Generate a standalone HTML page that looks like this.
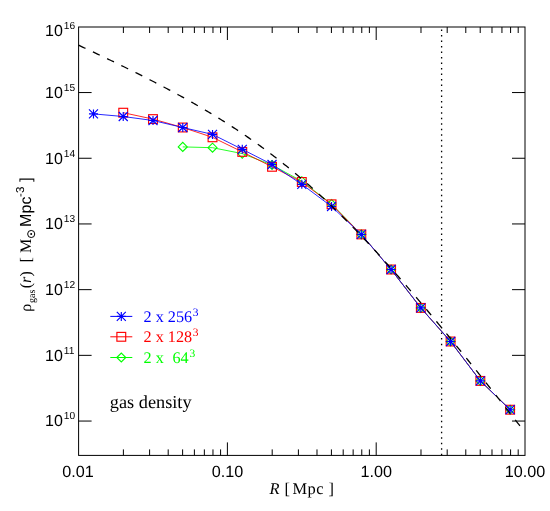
<!DOCTYPE html>
<html><head><meta charset="utf-8"><title>gas density</title>
<style>html,body{margin:0;padding:0;background:#fff;}svg{display:block;}text{font-family:"Liberation Sans",sans-serif;fill:#000;text-rendering:geometricPrecision;}.s{font-family:"Liberation Serif",serif;}</style></head><body>
<svg width="550" height="511" viewBox="0 0 550 511" style="will-change:transform">
<polyline points="182.76,146.90 212.52,147.70 242.28,153.60 272.04,165.00 301.80,181.20 331.56,204.00 361.32,234.40 391.08,269.50 420.84,307.90 450.60,341.50 480.36,380.90 510.12,409.70" fill="none" stroke="#00ff00" stroke-width="0.85"/>
<path d="M178.26,146.90L182.76,142.40L187.26,146.90L182.76,151.40Z" stroke="#00ff00" stroke-width="1.1" fill="none"/>
<path d="M208.02,147.70L212.52,143.20L217.02,147.70L212.52,152.20Z" stroke="#00ff00" stroke-width="1.1" fill="none"/>
<path d="M237.78,153.60L242.28,149.10L246.78,153.60L242.28,158.10Z" stroke="#00ff00" stroke-width="1.1" fill="none"/>
<path d="M267.54,165.00L272.04,160.50L276.54,165.00L272.04,169.50Z" stroke="#00ff00" stroke-width="1.1" fill="none"/>
<path d="M297.30,181.20L301.80,176.70L306.30,181.20L301.80,185.70Z" stroke="#00ff00" stroke-width="1.1" fill="none"/>
<path d="M327.06,204.00L331.56,199.50L336.06,204.00L331.56,208.50Z" stroke="#00ff00" stroke-width="1.1" fill="none"/>
<path d="M356.82,234.40L361.32,229.90L365.82,234.40L361.32,238.90Z" stroke="#00ff00" stroke-width="1.1" fill="none"/>
<path d="M386.58,269.50L391.08,265.00L395.58,269.50L391.08,274.00Z" stroke="#00ff00" stroke-width="1.1" fill="none"/>
<path d="M416.34,307.90L420.84,303.40L425.34,307.90L420.84,312.40Z" stroke="#00ff00" stroke-width="1.1" fill="none"/>
<path d="M446.10,341.50L450.60,337.00L455.10,341.50L450.60,346.00Z" stroke="#00ff00" stroke-width="1.1" fill="none"/>
<path d="M475.86,380.90L480.36,376.40L484.86,380.90L480.36,385.40Z" stroke="#00ff00" stroke-width="1.1" fill="none"/>
<path d="M505.62,409.70L510.12,405.20L514.62,409.70L510.12,414.20Z" stroke="#00ff00" stroke-width="1.1" fill="none"/>
<polyline points="123.24,112.70 153.00,119.10 182.76,127.50 212.52,137.30 242.28,151.90 272.04,166.80 301.80,182.00 331.56,204.30 361.32,234.40 391.08,269.50 420.84,307.90 450.60,341.50 480.36,380.90 510.12,409.70" fill="none" stroke="#ff0000" stroke-width="0.85"/>
<rect x="118.84" y="108.30" width="8.80" height="8.80" stroke="#ff0000" stroke-width="1.15" fill="none"/>
<rect x="148.60" y="114.70" width="8.80" height="8.80" stroke="#ff0000" stroke-width="1.15" fill="none"/>
<rect x="178.36" y="123.10" width="8.80" height="8.80" stroke="#ff0000" stroke-width="1.15" fill="none"/>
<rect x="208.12" y="132.90" width="8.80" height="8.80" stroke="#ff0000" stroke-width="1.15" fill="none"/>
<rect x="237.88" y="147.50" width="8.80" height="8.80" stroke="#ff0000" stroke-width="1.15" fill="none"/>
<rect x="267.64" y="162.40" width="8.80" height="8.80" stroke="#ff0000" stroke-width="1.15" fill="none"/>
<rect x="297.40" y="177.60" width="8.80" height="8.80" stroke="#ff0000" stroke-width="1.15" fill="none"/>
<rect x="327.16" y="199.90" width="8.80" height="8.80" stroke="#ff0000" stroke-width="1.15" fill="none"/>
<rect x="356.92" y="230.00" width="8.80" height="8.80" stroke="#ff0000" stroke-width="1.15" fill="none"/>
<rect x="386.68" y="265.10" width="8.80" height="8.80" stroke="#ff0000" stroke-width="1.15" fill="none"/>
<rect x="416.44" y="303.50" width="8.80" height="8.80" stroke="#ff0000" stroke-width="1.15" fill="none"/>
<rect x="446.20" y="337.10" width="8.80" height="8.80" stroke="#ff0000" stroke-width="1.15" fill="none"/>
<rect x="475.96" y="376.50" width="8.80" height="8.80" stroke="#ff0000" stroke-width="1.15" fill="none"/>
<rect x="505.72" y="405.30" width="8.80" height="8.80" stroke="#ff0000" stroke-width="1.15" fill="none"/>
<polyline points="93.48,113.90 123.24,116.50 153.00,120.50 182.76,127.50 212.52,134.40 242.28,149.30 272.04,164.50 301.80,184.30 331.56,206.50 361.32,234.40 391.08,269.50 420.84,307.90 450.60,341.50 480.36,380.90 510.12,409.70" fill="none" stroke="#0000ff" stroke-width="0.85"/>
<path d="M88.98,113.90H97.98M93.48,109.40V118.40M88.98,109.40L97.98,118.40M88.98,118.40L97.98,109.40" stroke="#0000ff" stroke-width="1.15" fill="none"/>
<path d="M118.74,116.50H127.74M123.24,112.00V121.00M118.74,112.00L127.74,121.00M118.74,121.00L127.74,112.00" stroke="#0000ff" stroke-width="1.15" fill="none"/>
<path d="M148.50,120.50H157.50M153.00,116.00V125.00M148.50,116.00L157.50,125.00M148.50,125.00L157.50,116.00" stroke="#0000ff" stroke-width="1.15" fill="none"/>
<path d="M178.26,127.50H187.26M182.76,123.00V132.00M178.26,123.00L187.26,132.00M178.26,132.00L187.26,123.00" stroke="#0000ff" stroke-width="1.15" fill="none"/>
<path d="M208.02,134.40H217.02M212.52,129.90V138.90M208.02,129.90L217.02,138.90M208.02,138.90L217.02,129.90" stroke="#0000ff" stroke-width="1.15" fill="none"/>
<path d="M237.78,149.30H246.78M242.28,144.80V153.80M237.78,144.80L246.78,153.80M237.78,153.80L246.78,144.80" stroke="#0000ff" stroke-width="1.15" fill="none"/>
<path d="M267.54,164.50H276.54M272.04,160.00V169.00M267.54,160.00L276.54,169.00M267.54,169.00L276.54,160.00" stroke="#0000ff" stroke-width="1.15" fill="none"/>
<path d="M297.30,184.30H306.30M301.80,179.80V188.80M297.30,179.80L306.30,188.80M297.30,188.80L306.30,179.80" stroke="#0000ff" stroke-width="1.15" fill="none"/>
<path d="M327.06,206.50H336.06M331.56,202.00V211.00M327.06,202.00L336.06,211.00M327.06,211.00L336.06,202.00" stroke="#0000ff" stroke-width="1.15" fill="none"/>
<path d="M356.82,234.40H365.82M361.32,229.90V238.90M356.82,229.90L365.82,238.90M356.82,238.90L365.82,229.90" stroke="#0000ff" stroke-width="1.15" fill="none"/>
<path d="M386.58,269.50H395.58M391.08,265.00V274.00M386.58,265.00L395.58,274.00M386.58,274.00L395.58,265.00" stroke="#0000ff" stroke-width="1.15" fill="none"/>
<path d="M416.34,307.90H425.34M420.84,303.40V312.40M416.34,303.40L425.34,312.40M416.34,312.40L425.34,303.40" stroke="#0000ff" stroke-width="1.15" fill="none"/>
<path d="M446.10,341.50H455.10M450.60,337.00V346.00M446.10,337.00L455.10,346.00M446.10,346.00L455.10,337.00" stroke="#0000ff" stroke-width="1.15" fill="none"/>
<path d="M475.86,380.90H484.86M480.36,376.40V385.40M475.86,376.40L484.86,385.40M475.86,385.40L484.86,376.40" stroke="#0000ff" stroke-width="1.15" fill="none"/>
<path d="M505.62,409.70H514.62M510.12,405.20V414.20M505.62,405.20L514.62,414.20M505.62,414.20L514.62,405.20" stroke="#0000ff" stroke-width="1.15" fill="none"/>
<path d="M78.60,45.21 L80.09,45.90 L81.59,46.60 L83.08,47.30 L84.57,47.99 L86.06,48.69 L87.56,49.39 L89.05,50.09 L90.54,50.80 L92.04,51.50 L93.53,52.20 L95.02,52.91 L96.52,53.62 L98.01,54.32 L99.50,55.03 L100.99,55.74 L102.49,56.45 L103.98,57.16 L105.47,57.88 L106.97,58.59 L108.46,59.31 L109.95,60.02 L111.45,60.74 L112.94,61.46 L114.43,62.18 L115.92,62.90 L117.42,63.63 L118.91,64.35 L120.40,65.08 L121.90,65.81 L123.39,66.54 L124.88,67.27 L126.38,68.00 L127.87,68.73 L129.36,69.47 L130.85,70.21 L132.35,70.95 L133.84,71.69 L135.33,72.43 L136.83,73.18 L138.32,73.92 L139.81,74.67 L141.31,75.42 L142.80,76.17 L144.29,76.93 L145.78,77.69 L147.28,78.44 L148.77,79.21 L150.26,79.97 L151.76,80.73 L153.25,81.50 L154.74,82.27 L156.23,83.05 L157.73,83.82 L159.22,84.60 L160.71,85.38 L162.21,86.16 L163.70,86.95 L165.19,87.73 L166.69,88.52 L168.18,89.32 L169.67,90.11 L171.16,90.91 L172.66,91.71 L174.15,92.52 L175.64,93.33 L177.14,94.14 L178.63,94.95 L180.12,95.77 L181.62,96.59 L183.11,97.41 L184.60,98.24 L186.09,99.07 L187.59,99.91 L189.08,100.74 L190.57,101.59 L192.07,102.43 L193.56,103.28 L195.05,104.13 L196.55,104.99 L198.04,105.85 L199.53,106.71 L201.02,107.58 L202.52,108.45 L204.01,109.33 L205.50,110.21 L207.00,111.10 L208.49,111.99 L209.98,112.88 L211.47,113.78 L212.97,114.68 L214.46,115.59 L215.95,116.50 L217.45,117.42 L218.94,118.34 L220.43,119.27 L221.93,120.20 L223.42,121.14 L224.91,122.08 L226.40,123.02 L227.90,123.98 L229.39,124.93 L230.88,125.90 L232.38,126.86 L233.87,127.84 L235.36,128.82 L236.86,129.80 L238.35,130.79 L239.84,131.79 L241.33,132.79 L242.83,133.80 L244.32,134.81 L245.81,135.83 L247.31,136.86 L248.80,137.89 L250.29,138.93 L251.79,139.97 L253.28,141.02 L254.77,142.08 L256.26,143.15 L257.76,144.22 L259.25,145.29 L260.74,146.38 L262.24,147.47 L263.73,148.56 L265.22,149.66 L266.72,150.77 L268.21,151.89 L269.70,153.02 L271.19,154.15 L272.69,155.28 L274.18,156.43 L275.67,157.58 L277.17,158.74 L278.66,159.90 L280.15,161.08 L281.64,162.26 L283.14,163.45 L284.63,164.64 L286.12,165.84 L287.62,167.05 L289.11,168.27 L290.60,169.49 L292.10,170.72 L293.59,171.96 L295.08,173.21 L296.57,174.46 L298.07,175.72 L299.56,176.99 L301.05,178.27 L302.55,179.55 L304.04,180.84 L305.53,182.14 L307.03,183.45 L308.52,184.76 L310.01,186.08 L311.50,187.41 L313.00,188.75 L314.49,190.09 L315.98,191.44 L317.48,192.80 L318.97,194.17 L320.46,195.54 L321.96,196.92 L323.45,198.31 L324.94,199.71 L326.43,201.11 L327.93,202.52 L329.42,203.94 L330.91,205.36 L332.41,206.79 L333.90,208.23 L335.39,209.68 L336.88,211.13 L338.38,212.60 L339.87,214.06 L341.36,215.54 L342.86,217.02 L344.35,218.51 L345.84,220.00 L347.34,221.51 L348.83,223.02 L350.32,224.53 L351.81,226.06 L353.31,227.59 L354.80,229.12 L356.29,230.67 L357.79,232.21 L359.28,233.77 L360.77,235.33 L362.27,236.90 L363.76,238.48 L365.25,240.06 L366.74,241.64 L368.24,243.24 L369.73,244.84 L371.22,246.44 L372.72,248.05 L374.21,249.67 L375.70,251.29 L377.20,252.92 L378.69,254.55 L380.18,256.19 L381.67,257.84 L383.17,259.49 L384.66,261.15 L386.15,262.81 L387.65,264.47 L389.14,266.15 L390.63,267.82 L392.13,269.50 L393.62,271.19 L395.11,272.88 L396.60,274.58 L398.10,276.28 L399.59,277.99 L401.08,279.70 L402.58,281.41 L404.07,283.13 L405.56,284.86 L407.05,286.59 L408.55,288.32 L410.04,290.06 L411.53,291.80 L413.03,293.55 L414.52,295.30 L416.01,297.05 L417.51,298.81 L419.00,300.57 L420.49,302.34 L421.98,304.10 L423.48,305.88 L424.97,307.65 L426.46,309.43 L427.96,311.22 L429.45,313.01 L430.94,314.80 L432.44,316.59 L433.93,318.39 L435.42,320.19 L436.91,321.99 L438.41,323.80 L439.90,325.61 L441.39,327.42 L442.89,329.24 L444.38,331.05 L445.87,332.88 L447.37,334.70 L448.86,336.53 L450.35,338.36 L451.84,340.19 L453.34,342.02 L454.83,343.86 L456.32,345.70 L457.82,347.54 L459.31,349.39 L460.80,351.24 L462.29,353.09 L463.79,354.94 L465.28,356.79 L466.77,358.65 L468.27,360.51 L469.76,362.37 L471.25,364.23 L472.75,366.09 L474.24,367.96 L475.73,369.83 L477.22,371.70 L478.72,373.57 L480.21,375.45 L481.70,377.32 L483.20,379.20 L484.69,381.08 L486.18,382.96 L487.68,384.84 L489.17,386.73 L490.66,388.61 L492.15,390.50 L493.65,392.39 L495.14,394.28 L496.63,396.17 L498.13,398.07 L499.62,399.96 L501.11,401.86 L502.61,403.75 L504.10,405.65 L505.59,407.55 L507.08,409.45 L508.58,411.36 L510.07,413.26 L511.56,415.17 L513.06,417.07 L514.55,418.98 L516.04,420.89 L517.54,422.80 L519.03,424.71 L520.52,426.62 L522.01,428.53 L523.51,430.45 L525.00,432.36" fill="none" stroke="#000" stroke-width="1.3" stroke-dasharray="7.6 8.17"/>
<line x1="441.6" y1="29.45" x2="441.6" y2="455.4" stroke="#000" stroke-width="1.3" stroke-dasharray="1.5 4.012"/>
<rect x="78.6" y="27.0" width="446.4" height="428.4" fill="none" stroke="#000" stroke-width="1.0"/>
<path d="M123.39,455.4v-6.0M123.39,27.0v6.0M149.60,455.4v-6.0M149.60,27.0v6.0M168.19,455.4v-6.0M168.19,27.0v6.0M182.61,455.4v-6.0M182.61,27.0v6.0M194.39,455.4v-6.0M194.39,27.0v6.0M204.35,455.4v-6.0M204.35,27.0v6.0M212.98,455.4v-6.0M212.98,27.0v6.0M220.59,455.4v-6.0M220.59,27.0v6.0M227.40,455.4v-13.0M227.40,27.0v13.0M272.19,455.4v-6.0M272.19,27.0v6.0M298.40,455.4v-6.0M298.40,27.0v6.0M316.99,455.4v-6.0M316.99,27.0v6.0M331.41,455.4v-6.0M331.41,27.0v6.0M343.19,455.4v-6.0M343.19,27.0v6.0M353.15,455.4v-6.0M353.15,27.0v6.0M361.78,455.4v-6.0M361.78,27.0v6.0M369.39,455.4v-6.0M369.39,27.0v6.0M376.20,455.4v-13.0M376.20,27.0v13.0M420.99,455.4v-6.0M420.99,27.0v6.0M447.20,455.4v-6.0M447.20,27.0v6.0M465.79,455.4v-6.0M465.79,27.0v6.0M480.21,455.4v-6.0M480.21,27.0v6.0M491.99,455.4v-6.0M491.99,27.0v6.0M501.95,455.4v-6.0M501.95,27.0v6.0M510.58,455.4v-6.0M510.58,27.0v6.0M518.19,455.4v-6.0M518.19,27.0v6.0M78.6,421.05h13.0M525.0,421.05h-13.0M78.6,355.35h13.0M525.0,355.35h-13.0M78.6,289.65h13.0M525.0,289.65h-13.0M78.6,223.95h13.0M525.0,223.95h-13.0M78.6,158.25h13.0M525.0,158.25h-13.0M78.6,92.55h13.0M525.0,92.55h-13.0" stroke="#000" stroke-width="1.0" fill="none"/>
<text x="77.90" y="476.6" font-size="16.2" text-anchor="middle">0.01</text>
<text x="227.40" y="476.6" font-size="16.2" text-anchor="middle">0.10</text>
<text x="376.20" y="476.6" font-size="16.2" text-anchor="middle">1.00</text>
<text x="524.90" y="476.6" font-size="16.2" text-anchor="middle">10.00</text>
<text x="45.0" y="426.40" font-size="16">10<tspan x="63.8" font-size="10.2" dy="-7.1">10</tspan></text>
<text x="45.0" y="360.70" font-size="16">10<tspan x="63.8" font-size="10.2" dy="-7.1">11</tspan></text>
<text x="45.0" y="295.00" font-size="16">10<tspan x="63.8" font-size="10.2" dy="-7.1">12</tspan></text>
<text x="45.0" y="229.30" font-size="16">10<tspan x="63.8" font-size="10.2" dy="-7.1">13</tspan></text>
<text x="45.0" y="163.60" font-size="16">10<tspan x="63.8" font-size="10.2" dy="-7.1">14</tspan></text>
<text x="45.0" y="97.90" font-size="16">10<tspan x="63.8" font-size="10.2" dy="-7.1">15</tspan></text>
<text x="45.0" y="36.15" font-size="16">10<tspan x="63.8" font-size="10.2" dy="-7.1">16</tspan></text>
<text class="s" y="494.4" font-size="16.4"><tspan x="269.6" font-style="italic">R</tspan><tspan x="284.4">[</tspan><tspan x="292.5" letter-spacing="0.55">Mpc</tspan><tspan x="328.5">]</tspan></text>
<g transform="translate(31.0,311.3) rotate(-90)"><text class="s" font-size="16"><tspan x="-0.4" y="0">&#961;</tspan><tspan x="8.35" y="4.4" font-size="10">gas</tspan><tspan x="23.1" y="0">(</tspan><tspan x="28.24" y="0" font-style="italic">r</tspan><tspan x="34.73" y="0">)</tspan><tspan x="48.93" y="0">[</tspan><tspan x="58.24" y="0">M</tspan></text><circle cx="77.3" cy="0.2" r="3.55" fill="none" stroke="#000" stroke-width="1"/><circle cx="77.3" cy="0.2" r="1.0" fill="#000"/><text font-size="16"><tspan x="84.39" y="0">M</tspan><tspan x="97.93" y="0">p</tspan><tspan x="106.72" y="0">c</tspan><tspan x="114.4" y="-6.8" font-size="11.5">-3</tspan><tspan x="129.48" y="0">]</tspan></text></g>
<line x1="110.3" y1="316.4" x2="132.3" y2="316.4" stroke="#0000ff" stroke-width="1"/>
<path d="M116.80,316.40H125.80M121.30,311.90V320.90M116.80,311.90L125.80,320.90M116.80,320.90L125.80,311.90" stroke="#0000ff" stroke-width="1.15" fill="none"/>
<text class="s" x="143.5" y="321.9" font-size="16.2" style="fill:#0000ff">2 x 256<tspan font-size="11.5" dx="0.8" dy="-6.2">3</tspan></text>
<line x1="110.3" y1="336.8" x2="132.3" y2="336.8" stroke="#ff0000" stroke-width="1"/>
<rect x="116.90" y="332.40" width="8.80" height="8.80" stroke="#ff0000" stroke-width="1.15" fill="none"/>
<text class="s" x="143.5" y="342.1" font-size="16.2" style="fill:#ff0000">2 x 128<tspan font-size="11.5" dx="0.8" dy="-6.2">3</tspan></text>
<line x1="110.3" y1="357.5" x2="132.3" y2="357.5" stroke="#00ff00" stroke-width="1"/>
<path d="M116.80,357.50L121.30,353.00L125.80,357.50L121.30,362.00Z" stroke="#00ff00" stroke-width="1.1" fill="none"/>
<text class="s" x="143.5" y="363.0" font-size="16.2" style="fill:#00ff00">2 x &#160;<tspan dx="0.7">64</tspan><tspan font-size="11.5" dx="0.8" dy="-6.2">3</tspan></text>
<text class="s" x="109.8" y="408.3" font-size="18.3">gas density</text>
</svg></body></html>
